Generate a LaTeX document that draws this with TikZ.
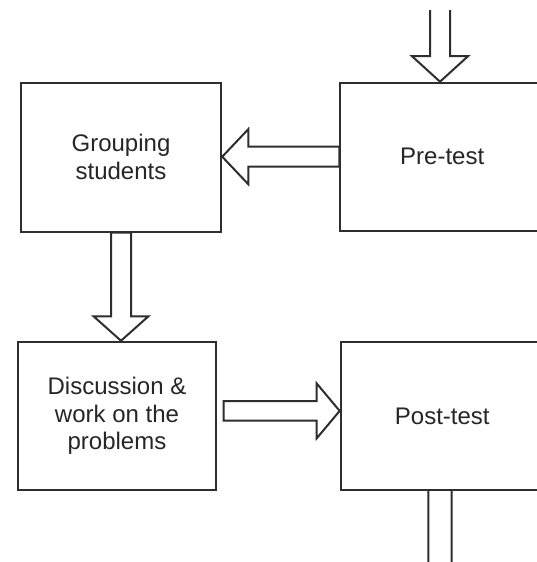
\documentclass[tikz,border=0pt]{standalone}
\usepackage{fontspec}
\setmainfont{Liberation Sans}
\usetikzlibrary{calc}
\tikzset{
  box/.style={draw=black!82, line width=2pt, rectangle, inner sep=0pt, align=center,
    font=\fontsize{24}{27.5}\selectfont, text=black!85},
  arrowline/.style={draw=black!82, line width=2pt, line join=miter, fill=white},
}
% #1 start, #2 tip, #3 shaft half width, #4 head half width, #5 head length, #6 path end
\newcommand\blockarr[6]{%
  \coordinate (ba-c) at ($(#2)!#5!(#1)$);
  \draw[arrowline] ($(#1)!#3!90:(#2)$) -- ($(ba-c)!#3!-90:(#1)$) -- ($(ba-c)!#4!-90:(#1)$)
    -- (#2) -- ($(ba-c)!#4!90:(#1)$) -- ($(ba-c)!#3!90:(#1)$) -- ($(#1)!#3!-90:(#2)$) #6;
}
\begin{document}
\begin{tikzpicture}[x=1pt,y=-1pt]
\useasboundingbox (0,0) rectangle (537,562);
\clip (0,0) rectangle (537,562);
\fill[white] (0,0) rectangle (537,562);

\node[box, minimum width=200.5pt, minimum height=148.8pt] (group) at (121,157.1) {Grouping\\students};
\node[box, minimum width=203.7pt, minimum height=148pt] (pre) at (442.2,156.7) {Pre-test};
\node[box, minimum width=198pt, minimum height=148.3pt] (disc) at (117,415.9) {Discussion \&\\work on the\\problems};
\node[box, minimum width=203.3pt, minimum height=148.3pt] (post) at (442.3,415.9) {Post-test};

\coordinate (tin) at (440,10);
\coordinate (tip1) at (tin |- pre.north);
\blockarr{tin}{tip1}{10pt}{28pt}{25.5pt}{}

\coordinate (lstart) at (pre.west);
\coordinate (ltip) at (group.east |- pre.west);
\blockarr{lstart}{ltip}{10pt}{27.5pt}{26pt}{-- cycle}

\coordinate (dstart) at (group.south);
\coordinate (dtip) at (group.south |- disc.north);
\blockarr{dstart}{dtip}{10pt}{27.5pt}{24.5pt}{-- cycle}

\coordinate (rstart) at ($(disc.east)+(6.5,-5)$);
\coordinate (rtip) at (post.west |- rstart);
\blockarr{rstart}{rtip}{9.7pt}{27.5pt}{23pt}{-- cycle}

\coordinate (bstart) at (tin |- post.south);
\coordinate (bout) at (440,620);
\blockarr{bstart}{bout}{11.7pt}{28pt}{26pt}{}
\end{tikzpicture}
\end{document}
